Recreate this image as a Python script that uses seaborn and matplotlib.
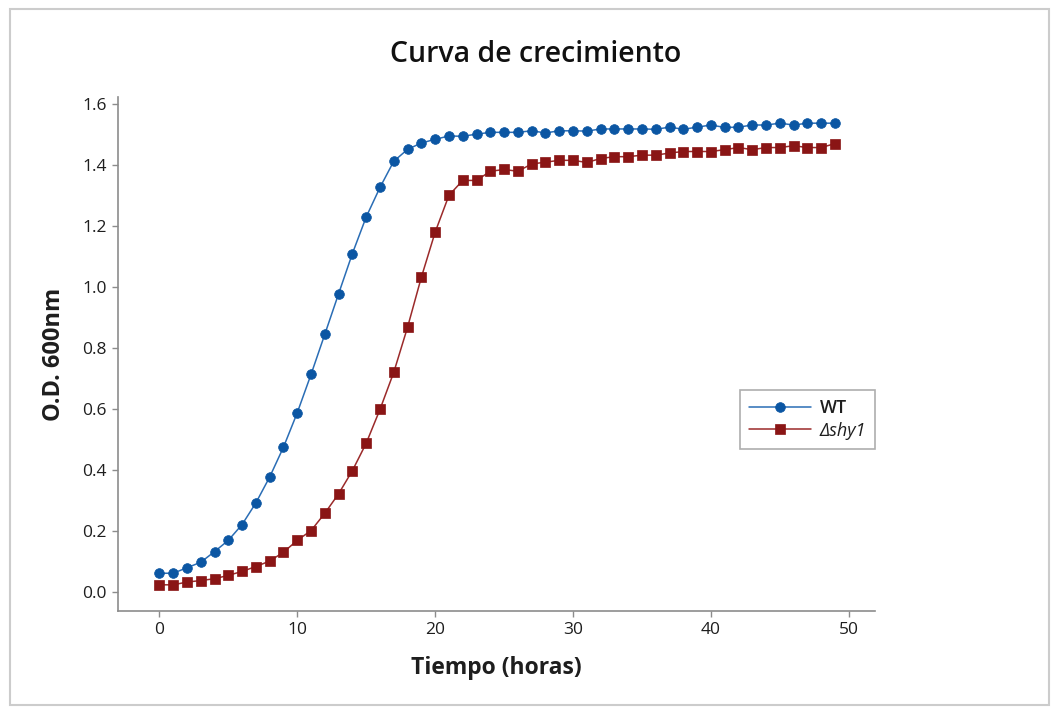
import numpy as np
import pandas as pd
import matplotlib
matplotlib.use("Agg")
import matplotlib.pyplot as plt
from matplotlib.patches import Rectangle
import seaborn as sns

# Optical density at 600 nm, one reading per hour
hours = list(range(50))
od_wt = [0.060, 0.060, 0.078, 0.096, 0.131, 0.168, 0.220, 0.291, 0.376, 0.474,
         0.587, 0.713, 0.845, 0.978, 1.110, 1.230, 1.327, 1.413, 1.452, 1.473,
         1.485, 1.496, 1.495, 1.502, 1.508, 1.508, 1.508, 1.513, 1.506, 1.513,
         1.513, 1.512, 1.519, 1.519, 1.519, 1.519, 1.518, 1.525, 1.518, 1.525,
         1.532, 1.524, 1.525, 1.532, 1.532, 1.538, 1.532, 1.538, 1.538, 1.538]
od_shy1 = [0.022, 0.022, 0.031, 0.036, 0.042, 0.053, 0.066, 0.082, 0.100, 0.129,
           0.168, 0.200, 0.257, 0.321, 0.397, 0.487, 0.598, 0.720, 0.868, 1.032,
           1.180, 1.301, 1.350, 1.350, 1.380, 1.386, 1.380, 1.404, 1.410, 1.416,
           1.416, 1.409, 1.422, 1.428, 1.428, 1.433, 1.433, 1.440, 1.445, 1.445,
           1.445, 1.451, 1.458, 1.451, 1.458, 1.458, 1.464, 1.458, 1.458, 1.471]
strains = ["WT", "Δshy1"]
x_ticks = [0, 10, 20, 30, 40, 50]
y_ticks = [0.0, 0.2, 0.4, 0.6, 0.8, 1.0, 1.2, 1.4, 1.6]

sns.set_theme(style="white")
plt.rcParams["font.family"] = ["Open Sans", "DejaVu Sans"]

df = pd.DataFrame({
    "hora": hours * 2,
    "od": od_wt + od_shy1,
    "cepa": [strains[0]] * len(hours) + [strains[1]] * len(hours),
})

W, H = 1051, 707
fig = plt.figure(figsize=(W / 100, H / 100), dpi=100)
fig.patch.set_facecolor("white")
ax = fig.add_axes([118 / W, 1 - 611 / H, 757 / W, 514 / H])

line_colors = {"WT": "#2a6db5", "Δshy1": "#9b2a2a"}
marker_colors = {"WT": "#0b56a3", "Δshy1": "#8a1515"}
marker_styles = {"WT": "o", "Δshy1": "s"}
marker_sizes = {"WT": 7.0, "Δshy1": 7.2}

for strain in strains:
    sub = df[df["cepa"] == strain]
    sns.lineplot(data=sub, x="hora", y="od", ax=ax, color=line_colors[strain],
                 linewidth=1.1, marker=marker_styles[strain],
                 markersize=marker_sizes[strain],
                 markerfacecolor=marker_colors[strain],
                 markeredgecolor=marker_colors[strain], markeredgewidth=0.5,
                 label=strain)

ax.set_xlim(-3.0, 51.9)
ax.set_ylim(-0.064, 1.624)
ax.set_xticks(x_ticks)
ax.set_yticks(y_ticks)
ax.set_xticklabels([str(t) for t in x_ticks])
ax.set_yticklabels([f"{t:.1f}" for t in y_ticks])

for side in ["top", "right"]:
    ax.spines[side].set_visible(False)
for side in ["left", "bottom"]:
    ax.spines[side].set_color("#8c8c8c")
    ax.spines[side].set_linewidth(1.2)

ax.tick_params(axis="both", which="major", direction="out", length=4, width=1,
               color="#8c8c8c", labelsize=12.5, labelcolor="#1e1e1e", pad=4,
               bottom=True, left=True)

ax.set_xlabel("Tiempo (horas)", fontsize=16.5, fontweight="bold", color="#1e1e1e",
              labelpad=13)
ax.set_ylabel("O.D. 600nm", fontsize=17, fontweight="bold", color="#1e1e1e",
              labelpad=12)

fig.text(536 / W, 1 - 55 / H, "Curva de crecimiento", ha="center", va="center",
         fontsize=20.5, fontweight="semibold", color="#111111")

leg = ax.legend(loc="upper left", bbox_to_anchor=(0.822, 0.43), frameon=True,
                fancybox=False, edgecolor="#9a9a9a", fontsize=13,
                handlelength=3.4, handletextpad=0.5, borderpad=0.5,
                labelspacing=0.25, borderaxespad=0)
leg.get_frame().set_linewidth(1.2)
for txt in leg.get_texts():
    txt.set_color("#1e1e1e")
leg.get_texts()[0].set_fontweight("semibold")
leg.get_texts()[1].set_fontstyle("italic")

# outer frame around the whole graphic
fig.patches.append(Rectangle((10 / W, 2 / H), 1039 / W, 696 / H,
                             transform=fig.transFigure, fill=False,
                             edgecolor="#cccccc", linewidth=1.5))

fig.savefig("out.png", dpi=100, facecolor="white")
